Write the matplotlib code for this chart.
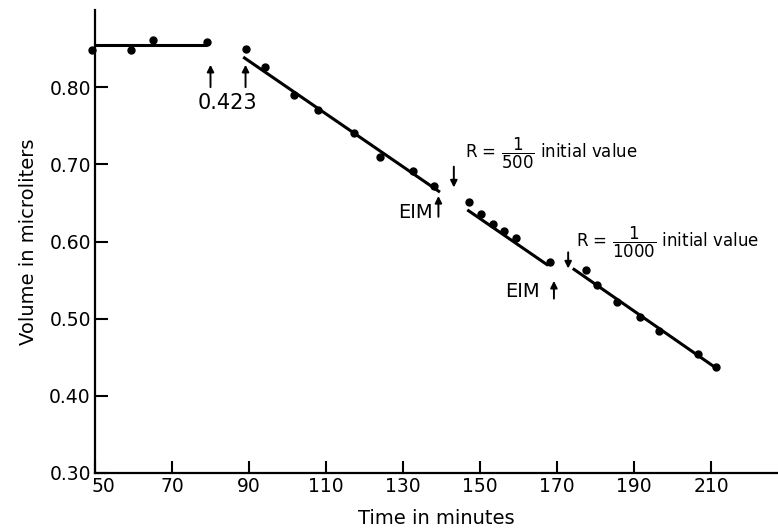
import matplotlib
matplotlib.use("Agg")
import matplotlib.pyplot as plt
from matplotlib.transforms import ScaledTranslation

plt.rcParams['font.family'] = ['DejaVu Sans']
plt.rcParams['mathtext.fontset'] = 'dejavusans'

# --- data ---
t1 = [49.3, 59.4, 65.0, 79.1]
v1 = [0.848, 0.848, 0.861, 0.858]
t2 = [89.1, 94.2, 101.7, 108.0, 117.3, 124.0, 132.5, 138.1]
v2 = [0.849, 0.826, 0.790, 0.771, 0.741, 0.710, 0.692, 0.672]
t3 = [147.1, 150.3, 153.5, 156.2, 159.4, 168.2]
v3 = [0.651, 0.635, 0.623, 0.613, 0.604, 0.574]
t4 = [177.5, 180.5, 185.5, 191.6, 196.6, 206.5, 211.3]
v4 = [0.563, 0.543, 0.522, 0.502, 0.484, 0.454, 0.438]

# fitted lines (start, end) for each segment
fit_t = [[49.5, 79.2], [88.5, 139.6], [146.7, 167.7], [174.1, 211.9]]
fit_v = [[0.854, 0.854], [0.839, 0.664], [0.641, 0.569], [0.565, 0.434]]

x_ticks = [50, 70, 90, 110, 130, 150, 170, 190, 210]
y_ticks = [0.30, 0.40, 0.50, 0.60, 0.70, 0.80]
y_tick_labels = ["0.30", "0.40", "0.50", "0.60", "0.70", "0.80"]

fig = plt.figure(figsize=(7.78, 5.31), dpi=100)
ax = fig.add_axes([95/778, 58/531, 1 - 95/778, (473-10)/531])

for ts, vs in zip([t1, t2, t3, t4], [v1, v2, v3, v4]):
    ax.plot(ts, vs, 'o', color='black', markersize=5, zorder=3, clip_on=False)
for ft, fv in zip(fit_t, fit_v):
    ax.plot(ft, fv, '-', color='black', lw=2.2, solid_capstyle='butt', zorder=2)

ax.set_xlim(50, 227.4)
ax.set_ylim(0.30, 0.90)
ax.set_xticks(x_ticks)
ax.set_yticks(y_ticks)
ax.set_yticklabels(y_tick_labels)
ax.tick_params(direction='in', length=9, width=1.5, labelsize=13.5, pad=3)
ax.tick_params(axis='y', pad=3)
for s in ['top', 'right']:
    ax.spines[s].set_visible(False)
for s in ['left', 'bottom']:
    ax.spines[s].set_linewidth(1.6)

# nudge the "50" label right so it clears "0.30" as in the reference
first = ax.get_xticklabels()[0]
first.set_transform(first.get_transform() + ScaledTranslation(8/100, 0, fig.dpi_scale_trans))

ax.set_xlabel("Time in minutes", fontsize=14, labelpad=9)
ax.set_ylabel("Volume in microliters", fontsize=14, labelpad=8)

ap = dict(arrowstyle='-|>', lw=1.4, color='black', mutation_scale=10, shrinkA=0, shrinkB=0)

# arrows near 0.423
for xa in [80.0, 89.1]:
    ax.annotate("", xy=(xa, 0.829), xytext=(xa, 0.800), arrowprops=ap)
ax.text(84.3, 0.779, "0.423", ha='center', va='center', fontsize=15)

# EIM arrows
ax.annotate("", xy=(139.2, 0.659), xytext=(139.2, 0.632), arrowprops=ap)
ax.text(137.6, 0.637, "EIM", ha='right', va='center', fontsize=14)
ax.annotate("", xy=(169.2, 0.549), xytext=(169.2, 0.526), arrowprops=ap)
ax.text(165.6, 0.535, "EIM", ha='right', va='center', fontsize=14)

# downward arrows
ax.annotate("", xy=(143.2, 0.670), xytext=(143.2, 0.697), arrowprops=ap)
ax.annotate("", xy=(172.9, 0.565), xytext=(172.9, 0.586), arrowprops=ap)

ax.text(146.1, 0.7145, r"R = $\dfrac{\mathrm{1}}{\mathrm{500}}$ initial value",
        ha='left', va='center', fontsize=12)
ax.text(174.9, 0.599, r"R = $\dfrac{\mathrm{1}}{\mathrm{1000}}$ initial value",
        ha='left', va='center', fontsize=12)

fig.savefig("out.png", dpi=100)
